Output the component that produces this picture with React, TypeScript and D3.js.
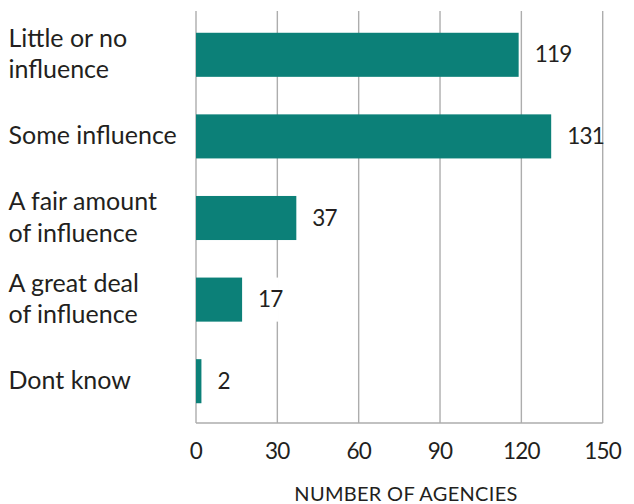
import React from "react";
import * as d3 from "d3";

const categories: string[][] = [
  ["Little or no", "influence"],
  ["Some influence"],
  ["A fair amount", "of influence"],
  ["A great deal", "of influence"],
  ["Dont know"],
];
const values: number[] = [119, 131, 37, 17, 2];
const xTicks: number[] = [0, 30, 60, 90, 120, 150];
const axisTitle = "NUMBER OF AGENCIES";

const W = 634;
const H = 504;
const FONT = "Lato, 'Open Sans', sans-serif";
const TEXT = "#231f20";
const BAR = "#0c8078";
const GRID = "#adadad";

export default function App() {
  const keys = categories.map((c) => c.join(" "));
  const x = d3.scaleLinear().domain([0, 150]).range([196, 602.7]);
  const y = d3
    .scaleBand<string>()
    .domain(keys)
    .range([14, 422])
    .paddingInner(0.46)
    .paddingOuter(0.23);
  const gridTop = 11;
  const gridBottom = 423;
  const lineH = 31.5;
  const valFont = 22.5;
  const numSpacing = -0.8;

  return (
    <svg
      width={W}
      height={H}
      style={{ position: "absolute", left: 0, top: 0, background: "#fff" }}
      fontFamily={FONT}
    >
      {xTicks.map((t) => (
        <line
          key={"g" + t}
          x1={x(t)}
          x2={x(t)}
          y1={gridTop}
          y2={gridBottom}
          stroke={GRID}
          strokeWidth={1.4}
        />
      ))}
      <line
        x1={x(0)}
        x2={x(150)}
        y1={gridBottom}
        y2={gridBottom}
        stroke={GRID}
        strokeWidth={1.4}
      />
      {values.map((v, i) => {
        const key = keys[i];
        const y0 = y(key)!;
        const bw = y.bandwidth();
        const cy = y0 + bw / 2;
        const label = String(v);
        const tw = label.length * (valFont * 0.56 + numSpacing);
        const tx = x(v) + 16;
        return (
          <g key={key}>
            <rect x={x(0)} y={y0} width={x(v) - x(0)} height={bw} fill={BAR} />
            <rect x={tx - 4} y={y0} width={tw + 1} height={bw} fill="#fff" />
            <text
              x={tx}
              y={cy + 7.5}
              fontSize={valFont}
              letterSpacing={numSpacing}
              fill={TEXT}
            >
              {label}
            </text>
          </g>
        );
      })}
      {categories.map((lines, i) => {
        const cy = y(keys[i])! + y.bandwidth() / 2;
        return (
          <text key={"c" + i} fontSize={25} fill={TEXT}>
            {lines.map((ln, j) => (
              <tspan
                key={j}
                x={8.5}
                y={cy + 7.8 + (j - (lines.length - 1) / 2) * lineH}
              >
                {ln}
              </tspan>
            ))}
          </text>
        );
      })}
      {xTicks.map((t) => (
        <text
          key={"t" + t}
          x={x(t)}
          y={459}
          textAnchor="middle"
          fontSize={valFont}
          letterSpacing={numSpacing}
          fill={TEXT}
        >
          {t}
        </text>
      ))}
      <text
        x={406}
        y={500.5}
        textAnchor="middle"
        fontSize={20}
        fill={TEXT}
        letterSpacing={0.3}
      >
        {axisTitle}
      </text>
    </svg>
  );
}
